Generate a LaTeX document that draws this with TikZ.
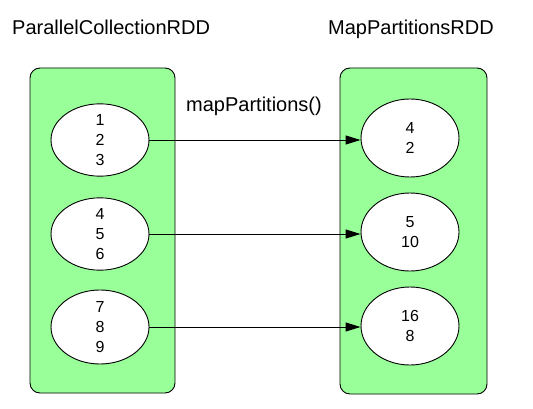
\documentclass[tikz,border=0pt]{standalone}
\usepackage{fontspec}
\setmainfont{Liberation Sans}
\usetikzlibrary{arrows.meta,shapes.geometric}
\definecolor{boxgreen}{RGB}{153,255,153}
\begin{document}
\begin{tikzpicture}[x=1pt,y=-1pt,
  rdd/.style={draw=black,fill=boxgreen,rounded corners=10pt,line width=0.9pt},
  part/.style={draw=black,fill=white,ellipse,line width=0.9pt,inner sep=0pt,
    minimum width=98pt,align=center,font=\fontsize{16}{20}\selectfont},
  title/.style={font=\fontsize{20}{23}\selectfont,inner sep=0pt,anchor=base west},
  flow/.style={-{Triangle[length=15pt,width=9pt]},line width=0.9pt}]
\useasboundingbox (0,0) rectangle (533,409);
\draw[rdd] (30,68) rectangle (175,393);
\draw[rdd] (340,68) rectangle (487,394);
\node[title] (t1) at (12,35) {ParallelCollectionRDD};
\node[title] (t2) at (328,35) {MapPartitionsRDD};
\node[title] (lbl) at (186,112) {mapPartitions()};
\node[part,minimum height=67pt] (a1) at (100,140) {1\\2\\3};
\node[part,minimum height=67pt] (a2) at (100,234) {4\\5\\6};
\node[part,minimum height=74pt] (a3) at (100,327) {7\\8\\9};
\node[part,minimum height=78pt] (b1) at (410,138) {4\\2};
\node[part,minimum height=78pt] (b2) at (410,232) {5\\10};
\node[part,minimum height=78pt] (b3) at (410,326) {16\\8};
\draw[flow] (a1.east) -- (a1.east -| b1.west);
\draw[flow] (a2.east) -- (a2.east -| b2.west);
\draw[flow] (a3.east) -- (a3.east -| b3.west);
\end{tikzpicture}
\end{document}
